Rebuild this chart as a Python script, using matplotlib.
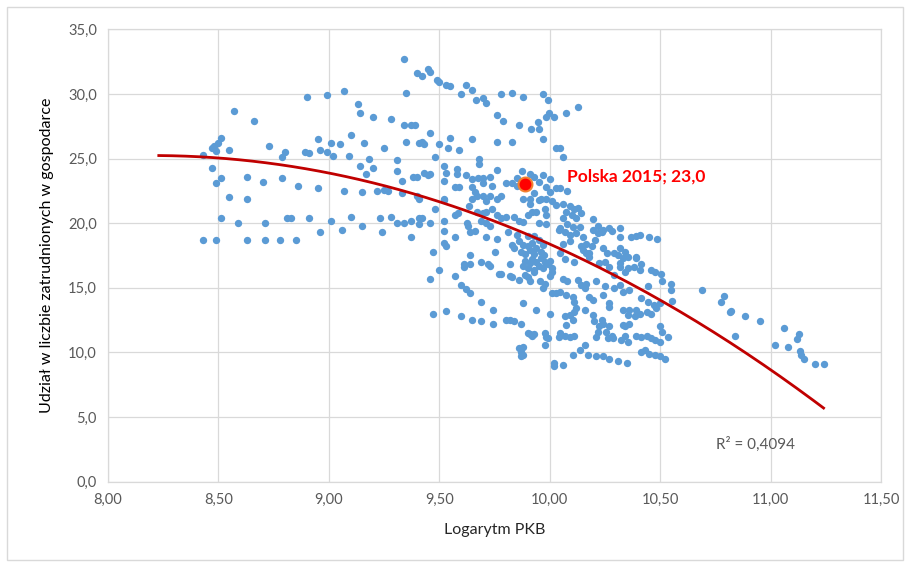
import numpy as np
import matplotlib
matplotlib.use("Agg")
import matplotlib.pyplot as plt
from matplotlib.ticker import FuncFormatter
from matplotlib.patches import Rectangle

# punkty (logarytm PKB, udzial w zatrudnieniu)
pts = [
    (8.43, 25.3), (8.43, 18.7), (8.47, 24.3), (8.47, 25.8), (8.48, 26.0), (8.49, 25.6), (8.50, 26.2), (8.51, 26.6),
    (8.49, 23.1), (8.51, 23.5), (8.49, 18.7), (8.51, 20.4), (8.55, 25.7), (8.55, 22.0), (8.57, 28.7), (8.59, 20.0),
    (8.63, 23.6), (8.63, 21.9), (8.63, 18.7), (8.66, 27.9), (8.70, 23.2), (8.71, 20.0), (8.71, 18.7), (8.73, 26.0),
    (8.78, 18.7), (8.79, 23.5), (8.79, 25.1), (8.80, 25.5),
    (8.81, 20.4), (8.83, 20.4), (8.85, 18.7), (8.86, 22.9), (8.89, 25.5), (8.91, 25.4), (8.90, 29.8), (8.91, 20.4),
    (8.96, 19.3), (8.95, 22.7), (8.95, 26.5), (8.96, 25.7), (8.99, 29.9), (8.99, 25.5),
    (9.01, 26.2), (9.02, 25.2), (9.01, 20.2), (9.05, 26.1), (9.07, 30.2), (9.07, 22.5), (9.06, 19.5), (9.10, 26.8),
    (9.09, 25.2), (9.10, 20.5), (9.13, 29.2), (9.14, 28.5), (9.14, 24.4), (9.15, 22.4), (9.15, 19.8), (9.16, 26.2),
    (9.17, 23.8), (9.18, 25.0), (9.20, 24.3),
    (9.20, 28.2), (9.25, 25.8), (9.23, 20.4), (9.24, 19.3), (9.22, 22.5), (9.25, 22.6), (9.27, 22.5), (9.28, 28.1),
    (9.28, 20.5), (9.31, 24.0), (9.31, 24.9), (9.31, 20.0), (9.34, 20.0), (9.33, 22.3), (9.33, 23.3), (9.34, 32.7),
    (9.35, 30.1), (9.34, 27.6), (9.37, 27.6), (9.39, 27.6), (9.35, 26.3), (9.38, 23.6), (9.40, 23.6), (9.37, 18.9),
    (9.37, 20.2),
    (9.40, 31.6), (9.42, 31.4), (9.41, 26.2), (9.42, 26.3), (9.43, 26.1), (9.40, 22.1), (9.41, 20.4), (9.42, 20.4),
    (9.41, 19.9), (9.41, 21.9), (9.43, 23.9), (9.45, 23.7), (9.46, 23.8), (9.45, 31.9), (9.46, 31.7), (9.46, 27.0),
    (9.46, 20.0), (9.47, 17.8), (9.46, 15.7), (9.47, 13.0), (9.48, 25.1), (9.48, 21.1), (9.49, 31.1), (9.50, 30.9),
    (9.50, 26.1), (9.52, 21.9), (9.50, 16.4), (9.52, 21.8), (9.52, 19.4), (9.52, 20.2), (9.52, 23.3), (9.53, 23.9),
    (9.52, 24.4), (9.52, 18.5), (9.53, 18.2), (9.53, 13.2), (9.53, 30.7), (9.55, 30.6), (9.55, 26.6), (9.54, 25.8),
    (9.59, 25.7), (9.57, 22.8), (9.59, 22.8), (9.57, 15.9), (9.58, 24.2), (9.58, 23.8), (9.57, 20.6), (9.585, 20.8),
    (9.57, 18.9), (9.60, 15.2), (9.60, 12.8),
    (9.62, 30.7), (9.65, 30.3), (9.60, 30.0), (9.665, 29.5), (9.70, 29.7), (9.71, 29.3), (9.78, 30.0), (9.76, 28.4),
    (9.79, 27.9), (9.65, 26.5), (9.76, 26.3), (9.68, 25.0), (9.68, 24.6), (9.62, 23.7), (9.76, 24.1), (9.65, 23.4),
    (9.675, 23.5), (9.70, 23.5), (9.73, 23.6), (9.65, 22.8), (9.66, 22.4), (9.70, 23.1), (9.74, 22.9), (9.80, 23.1),
    (9.67, 22.1), (9.70, 22.1), (9.73, 22.1), (9.78, 22.1), (9.65, 21.9), (9.71, 21.7), (9.76, 21.9), (9.635, 21.3),
    (9.625, 20.0), (9.63, 19.8), (9.67, 20.9), (9.70, 20.8), (9.71, 20.9), (9.74, 21.1), (9.69, 20.2), (9.71, 20.0),
    (9.73, 19.8), (9.76, 20.6), (9.78, 20.4), (9.80, 20.5), (9.64, 19.3), (9.66, 19.4), (9.71, 18.95), (9.76, 18.8),
    (9.75, 17.8), (9.64, 17.5), (9.61, 16.8), (9.61, 16.6), (9.64, 16.8), (9.69, 17.0), (9.72, 16.8), (9.73, 16.7),
    (9.77, 16.1), (9.78, 16.1), (9.64, 14.6), (9.69, 13.9), (9.745, 13.3), (9.65, 12.5), (9.69, 12.4), (9.745, 12.2),
    (9.80, 12.5), (9.62, 14.9),
    (9.83, 30.1), (9.88, 29.8), (9.97, 30.0), (9.99, 29.5), (9.86, 27.6), (9.915, 27.3), (9.95, 27.3), (9.945, 27.8),
    (9.985, 28.2), (9.995, 28.5), (10.02, 28.2), (9.97, 26.5), (10.03, 25.8), (9.83, 26.3), (9.875, 24.05), (9.91, 23.8),
    (9.97, 23.7), (10.0, 23.4), (9.83, 23.1), (9.85, 23.5), (9.85, 22.9), (9.93, 23.6), (9.95, 23.2), (9.985, 22.8),
    (10.0, 22.4), (10.03, 22.7), (9.91, 21.9), (9.93, 22.3), (9.96, 21.9), (9.88, 21.9), (9.91, 21.5), (9.95, 21.8),
    (9.985, 21.9), (10.01, 21.7), (10.03, 21.4), (9.84, 20.5), (9.86, 20.2), (9.90, 20.6), (9.92, 20.9), (9.94, 20.9),
    (9.98, 21.1), (9.985, 20.6), (9.88, 20.1), (9.95, 20.0), (9.985, 19.9), (10.04, 19.5), (9.81, 19.3), (9.85, 19.1),
    (9.83, 18.3), (9.84, 18.05), (9.86, 18.6),
    (9.87, 17.8), (9.88, 18.3), (9.89, 17.6), (9.90, 18.2), (9.91, 17.9), (9.92, 18.5), (9.93, 17.6), (9.94, 18.1),
    (9.95, 18.7), (9.96, 17.8), (9.97, 18.3), (9.975, 17.5), (9.93, 19.0), (9.90, 19.0), (10.0, 17.1), (9.99, 16.8),
    (9.97, 16.5), (9.95, 16.7), (9.93, 16.4), (9.91, 16.9), (9.90, 16.5), (9.89, 17.1), (9.92, 17.2), (9.94, 17.0),
    (9.96, 17.3), (9.98, 17.0), (10.01, 16.5),
    (9.82, 16.8), (9.82, 15.9), (9.83, 15.8), (9.86, 15.6), (9.88, 16.7), (9.89, 16.0), (9.91, 15.5), (9.90, 15.8),
    (9.93, 16.2), (9.955, 15.5), (9.97, 15.0), (9.98, 15.3), (10.0, 15.9), (10.01, 16.2), (9.88, 13.8), (9.94, 13.3),
    (10.0, 13.0), (10.01, 14.6), (10.03, 14.6), (9.82, 12.5), (9.84, 12.4), (9.87, 12.2), (9.90, 11.5), (9.91, 11.4),
    (9.92, 11.3), (9.93, 11.4), (9.98, 11.5), (9.985, 11.2), (9.99, 11.1), (10.04, 11.2), (9.98, 10.6), (9.86, 10.3),
    (9.87, 10.0), (9.88, 9.8), (9.88, 10.4), (9.87, 9.7), (10.02, 9.2), (10.02, 8.95),
    (10.075, 28.5), (10.13, 29.0), (10.06, 25.1), (10.045, 25.8), (10.045, 22.7), (10.08, 22.5),
    (10.06, 21.5), (10.09, 21.3), (10.11, 21.1), (10.13, 21.2), (10.14, 20.8), (10.075, 20.9), (10.10, 20.6),
    (10.12, 20.4), (10.06, 20.4), (10.08, 19.9), (10.105, 19.7), (10.135, 19.7), (10.045, 19.6), (10.07, 19.3),
    (10.09, 19.1), (10.12, 19.2), (10.15, 18.95), (10.165, 18.4), (10.19, 18.2), (10.205, 18.7), (10.195, 19.5),
    (10.22, 19.2), (10.235, 19.3), (10.18, 17.7), (10.15, 17.9), (10.045, 17.7), (10.06, 18.4), (10.09, 18.6),
    (10.14, 18.2), (10.165, 17.7), (10.07, 17.2), (10.11, 17.0),
    (10.195, 20.3), (10.22, 19.8), (10.24, 19.5), (10.27, 19.6), (10.28, 19.4), (10.32, 19.6), (10.32, 18.9),
    (10.37, 18.9), (10.39, 18.97), (10.41, 19.05), (10.45, 18.9), (10.485, 18.8), (10.32, 18.05), (10.29, 17.7),
    (10.31, 17.5), (10.34, 17.8), (10.355, 17.4), (10.39, 17.4), (10.24, 18.1), (10.26, 17.7),
    (10.18, 17.4), (10.225, 16.9), (10.25, 17.0), (10.27, 16.6), (10.29, 16.0), (10.32, 16.6), (10.34, 16.2),
    (10.355, 16.5), (10.33, 17.3), (10.32, 16.9), (10.38, 16.6), (10.39, 17.3), (10.41, 16.4), (10.415, 16.8),
    (10.46, 16.4), (10.475, 16.2), (10.505, 16.1), (10.51, 15.5), (10.55, 14.8), (10.555, 14.0), (10.445, 15.1),
    (10.55, 15.3),
    (10.06, 15.7), (10.08, 15.5), (10.13, 15.6), (10.14, 15.2), (10.16, 14.95), (10.165, 15.3), (10.21, 15.5),
    (10.25, 15.1), (10.29, 14.95), (10.32, 15.2), (10.33, 14.7), (10.36, 14.8), (10.415, 14.2), (10.445, 13.9),
    (10.47, 13.7), (10.48, 13.4), (10.50, 13.8),
    (10.045, 14.7), (10.075, 14.4), (10.105, 14.3), (10.11, 13.9), (10.18, 14.3), (10.195, 14.05), (10.24, 14.4),
    (10.27, 13.8), (10.27, 13.5),
    (10.33, 13.3), (10.36, 13.3), (10.39, 13.3), (10.41, 13.0), (10.355, 12.9), (10.385, 12.8), (10.33, 12.1),
    (10.07, 12.8), (10.09, 12.9), (10.11, 13.1), (10.12, 13.4), (10.105, 12.5), (10.075, 12.1),
    (10.16, 13.3), (10.195, 12.9), (10.20, 12.4), (10.235, 12.5), (10.24, 12.2), (10.225, 12.0), (10.255, 11.6),
    (10.27, 12.0), (10.28, 11.3), (10.285, 11.1), (10.265, 11.1), (10.21, 11.2), (10.22, 11.6),
    (10.045, 11.5), (10.07, 11.3), (10.09, 11.2), (10.11, 11.3),
    (10.16, 10.6), (10.135, 10.2), (10.105, 9.8), (10.175, 9.8), (10.21, 9.7), (10.24, 9.7), (10.27, 9.5),
    (10.06, 9.0), (10.31, 9.3), (10.35, 9.2),
    (10.325, 10.95), (10.34, 11.3), (10.355, 10.8), (10.39, 11.3), (10.415, 11.2), (10.44, 11.3), (10.46, 11.1),
    (10.475, 10.95), (10.50, 10.8), (10.535, 11.2),
    (10.43, 10.2), (10.45, 9.9), (10.475, 9.8), (10.50, 9.7), (10.52, 9.5), (10.415, 10.0),
    (10.34, 12.0), (10.36, 12.2), (10.46, 13.0), (10.44, 13.1), (10.50, 12.0), (10.51, 11.6),
    (10.69, 14.8), (10.79, 14.35), (10.775, 13.9), (10.815, 13.1), (10.82, 13.2), (10.885, 12.8), (10.95, 12.45),
    (10.84, 11.3), (11.06, 11.9), (11.02, 10.6), (11.08, 10.4), (11.13, 11.4), (11.12, 11.0), (11.135, 10.1),
    (11.14, 9.8), (11.15, 9.5), (11.20, 9.07), (11.24, 9.07),
]
log_pkb = np.array([p[0] for p in pts])
udzial = np.array([p[1] for p in pts])

polska_x, polska_y = 9.89, 23.0
polska_label = "Polska 2015; 23,0"
r2_label = "R² = 0,4094"

x_ticks = np.arange(8.0, 11.51, 0.5)
y_ticks = np.arange(0, 35.1, 5)

plt.rcParams['font.family'] = ['Lato', 'DejaVu Sans']

fig = plt.figure(figsize=(9.07, 5.63), dpi=100)
ax = fig.add_axes([108 / 907, 1 - 481.5 / 563, (881 - 108) / 907, (481.5 - 29.4) / 563])

grid_c = '#D9D9D9'
ax.scatter(log_pkb, udzial, s=28, color='#5B9BD5', linewidths=0, zorder=3)

# trend wielomianowy 2 stopnia (jak w Excelu, z prognoza wstecz 0,2)
coef = np.polyfit(log_pkb, udzial, 2)
xt = np.linspace(log_pkb.min() - 0.2, log_pkb.max(), 200)
ax.plot(xt, np.polyval(coef, xt), color='#C00000', lw=2, zorder=4)

ax.scatter([polska_x], [polska_y], s=100, color='#FF0000', edgecolors='#F08030', linewidths=1.5, zorder=5)
ax.text(10.08, 23.6, polska_label, color='#FF0000', fontsize=12.5,
        fontweight='bold', va='center', ha='left', zorder=6)
ax.text(10.755, 2.85, r2_label, color='#595959', fontsize=11, va='center', ha='left')

ax.set_xlim(8.0, 11.5)
ax.set_ylim(0, 35)
ax.set_xticks(x_ticks)
ax.set_yticks(y_ticks)
ax.xaxis.set_major_formatter(FuncFormatter(lambda v, p: f"{v:.2f}".replace('.', ',')))
ax.yaxis.set_major_formatter(FuncFormatter(lambda v, p: f"{v:.1f}".replace('.', ',')))
ax.grid(True, color=grid_c, lw=0.9, zorder=0)
ax.set_axisbelow(True)
for s in ax.spines.values():
    s.set_color(grid_c)
    s.set_linewidth(0.9)
ax.tick_params(length=0, labelsize=10.5, labelcolor='#595959', pad=8)

ax.set_xlabel("Logarytm PKB", fontsize=11.5, color='#262626', labelpad=12)
ax.set_ylabel("Udział w liczbie zatrudnionych w gospodarce", fontsize=11.5, color='#000000', labelpad=10)

fig.patches.append(Rectangle((7 / 907, 3 / 563), 896 / 907, 553 / 563, transform=fig.transFigure,
                             fill=False, edgecolor=grid_c, lw=1))

fig.savefig("out.png", dpi=100)
